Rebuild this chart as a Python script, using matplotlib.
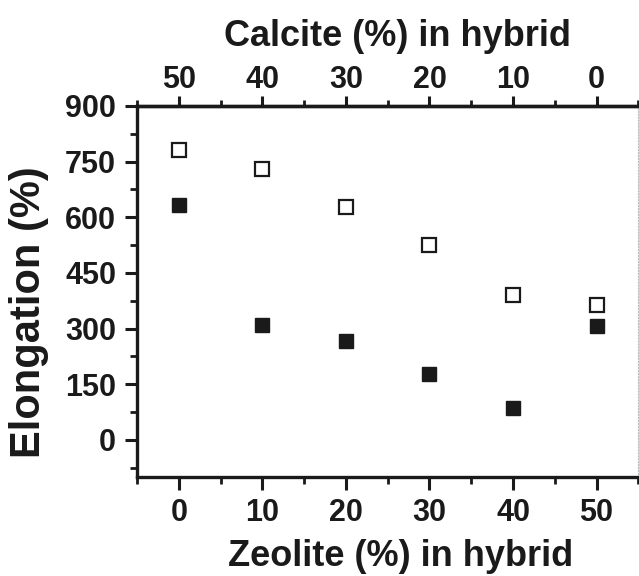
import matplotlib.pyplot as plt
from matplotlib.ticker import MultipleLocator

plt.rcParams['font.family'] = ['Liberation Sans', 'DejaVu Sans']
plt.rcParams['font.weight'] = 'bold'

# Elongation of the hybrids vs filler composition
zeolite = [0, 10, 20, 30, 40, 50]
elong_open = [780, 730, 627, 526, 391, 364]
elong_filled = [634, 310, 267, 178, 86, 307]
calcite_ticks = [50, 40, 30, 20, 10, 0]

ink = '#1a1a1a'
W, H = 639, 576

fig = plt.figure(figsize=(6.39, 5.76), dpi=100)
ax = fig.add_axes([0.2144, 0.172, 0.7846, 0.644])

ax.plot(zeolite, elong_open, 's', ms=10, mfc='white', mec=ink, mew=1.6)
ax.plot(zeolite, elong_filled, 's', ms=10, mfc=ink, mec=ink, mew=1.0)

ax.set_xlim(-5, 55)
ax.set_ylim(-100, 900)
ax.set_xticks(zeolite)
ax.set_yticks([0, 150, 300, 450, 600, 750, 900])
ax.xaxis.set_minor_locator(MultipleLocator(5))
ax.yaxis.set_minor_locator(MultipleLocator(75))

for side in ['left', 'bottom', 'top']:
    ax.spines[side].set_linewidth(2.4)
    ax.spines[side].set_color(ink)
ax.spines['right'].set_linewidth(0.8)
ax.spines['right'].set_color('#bbbbbb')
ax.spines['right'].set_linestyle(':')

ax.tick_params(axis='both', which='major', direction='out', length=9, width=2.2,
               labelsize=22, colors=ink)
ax.tick_params(axis='x', which='major', pad=6)
ax.tick_params(axis='y', which='major', pad=6)
ax.tick_params(axis='both', which='minor', direction='out', length=5, width=2.0,
               colors=ink)
ax.tick_params(axis='y', which='both', right=False)
ax.tick_params(axis='x', which='both', top=False)

# calcite content is the complement of zeolite
top = ax.secondary_xaxis('top', functions=(lambda x: 50 - x, lambda x: 50 - x))
top.set_xticks(calcite_ticks)
top.xaxis.set_minor_locator(MultipleLocator(5))
top.spines['top'].set_linewidth(2.4)
top.tick_params(axis='x', which='major', direction='out', length=7, width=2.2,
                labelsize=22, colors=ink, pad=1)
top.tick_params(axis='x', which='minor', direction='out', length=4, width=2.0,
                colors=ink)

# axis titles
fig.text(397 / W, 1 - 46 / H, 'Calcite (%) in hybrid', fontsize=26,
         fontweight='bold', color=ink, ha='center', va='baseline')
fig.text(401 / W, 1 - 566 / H, 'Zeolite (%) in hybrid', fontsize=26,
         fontweight='bold', color=ink, ha='center', va='baseline')
fig.text(29 / W, 1 - 312 / H, 'Elongation (%)', fontsize=30,
         fontweight='bold', color=ink, ha='center', va='center', rotation=90)

fig.savefig('out.png', dpi=100)
